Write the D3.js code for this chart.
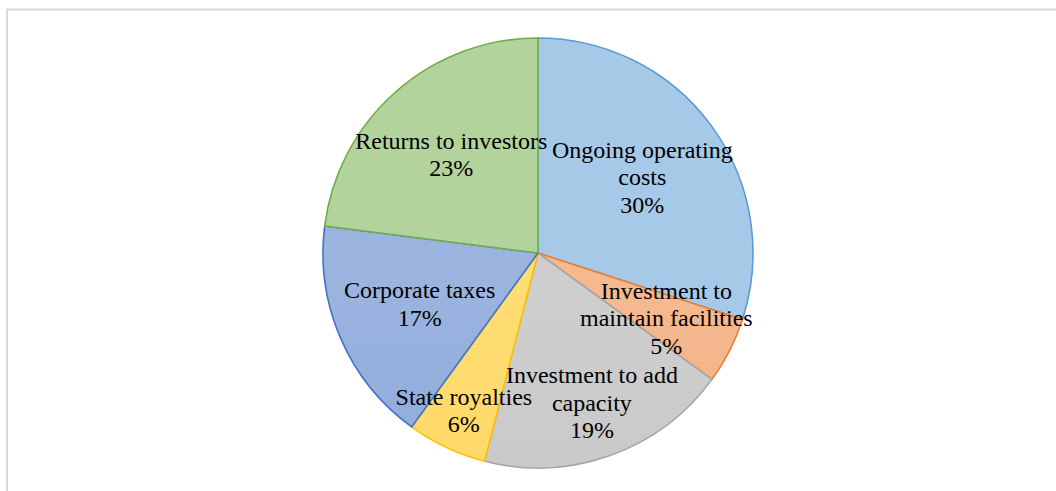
<!DOCTYPE html>
<html>
<head>
<meta charset="utf-8">
<script src="https://cdn.jsdelivr.net/npm/d3@7"></script>
<style>
  html, body { margin: 0; padding: 0; background: #ffffff; }
  svg { display: block; }
  .lbl { font-family: "Liberation Serif", "Times New Roman", "DejaVu Serif", serif; }
</style>
</head>
<body>
<svg id="chart" width="1056" height="491"></svg>
<script>
// ---- data ----
const categories = [
  "Ongoing operating\ncosts",
  "Investment to\nmaintain facilities",
  "Investment to add\ncapacity",
  "State royalties",
  "Corporate taxes",
  "Returns to investors"
];
const shares = [30, 5, 19, 6, 17, 23];
const seriesColors = ["#5B9BD5", "#ED7D31", "#A5A5A5", "#FFC000", "#4472C4", "#70AD47"];

// ---- layout ----
const W = 1056, H = 491;
const cx = 538, cy = 253, R = 215;
const labelRadiusFactor = [0.6, 0.67, 0.74, 0.81, 0.6, 0.61];
const fontSize = 24, lineH = 27.5;

const svg = d3.select("#chart");

// chart frame
svg.append("rect")
  .attr("x", 7).attr("y", 9.5)
  .attr("width", W + 20).attr("height", H + 20)
  .attr("fill", "#ffffff")
  .attr("stroke", "#d9d9d9")
  .attr("stroke-width", 2);

const defs = svg.append("defs");
seriesColors.forEach((c, i) => {
  const base = d3.rgb(c);
  const tint = t => d3.rgb(
    base.r + (255 - base.r) * t,
    base.g + (255 - base.g) * t,
    base.b + (255 - base.b) * t
  ).formatHex();
  const g = defs.append("linearGradient")
    .attr("id", "grad" + i)
    .attr("gradientUnits", "userSpaceOnUse")
    .attr("x1", 0).attr("y1", cy - R)
    .attr("x2", 0).attr("y2", cy + R);
  g.append("stop").attr("offset", "0%").attr("stop-color", tint(0.46));
  g.append("stop").attr("offset", "100%").attr("stop-color", tint(0.33));
});

const pie = d3.pie().sort(null).value(d => d)
  .startAngle(0).endAngle(2 * Math.PI);
const arcs = pie(shares);
const total = d3.sum(shares);

const arc = d3.arc().innerRadius(0).outerRadius(R);

const g = svg.append("g").attr("transform", `translate(${cx},${cy})`);

g.selectAll("path.slice")
  .data(arcs)
  .join("path")
  .attr("class", "slice")
  .attr("d", arc)
  .attr("fill", (d, i) => `url(#grad${i})`)
  .attr("stroke", (d, i) => seriesColors[i])
  .attr("stroke-width", 1.6)
  .attr("stroke-linejoin", "round");

// labels
const labels = g.selectAll("text.lbl")
  .data(arcs)
  .join("text")
  .attr("class", "lbl")
  .attr("text-anchor", "middle")
  .style("font-size", fontSize + "px")
  .attr("fill", "#000000");

labels.each(function(d, i) {
  const r = R * labelRadiusFactor[i];
  const [lx, ly] = d3.arc().innerRadius(r).outerRadius(r).centroid(d);
  const lines = categories[i].split("\n").concat([Math.round(shares[i] / total * 100) + "%"]);
  const first = ly - (lines.length - 1) / 2 * lineH + 8;
  const t = d3.select(this);
  lines.forEach((ln, k) => {
    t.append("tspan")
      .attr("x", lx)
      .attr("y", first + k * lineH)
      .text(ln);
  });
});
</script>
</body>
</html>
